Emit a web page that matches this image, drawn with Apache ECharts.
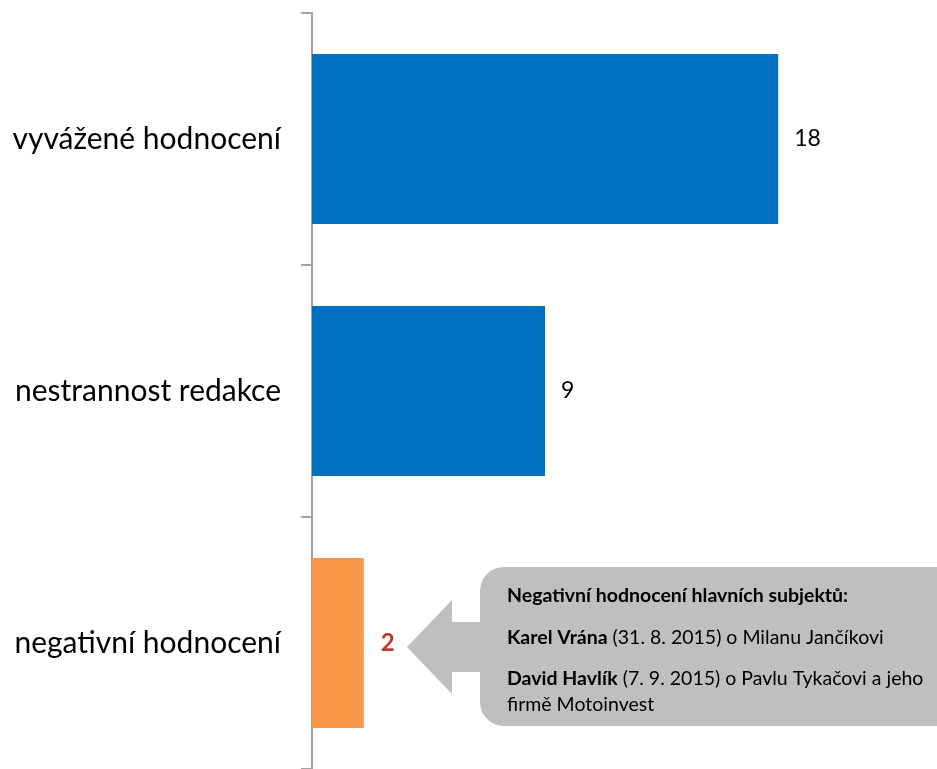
<!DOCTYPE html>
<html>
<head>
<meta charset="utf-8">
<script src="https://cdn.jsdelivr.net/npm/echarts@6/dist/echarts.min.js"></script>
<style>
  html, body { margin: 0; padding: 0; background: #fff; }
  #chart { width: 937px; height: 769px; }
</style>
</head>
<body>
<div id="chart"></div>
<script>
// data
const categories = ['vyvážené hodnocení', 'nestrannost redakce', 'negativní hodnocení']
const values = [18, 9, 2]
const barColors = ['#0070C0', '#0070C0', '#F79646']
const noteTitle = 'Negativní hodnocení hlavních subjektů:'
const noteLines = [
  '{b|Karel Vrána} (31. 8. 2015) o Milanu Jančíkovi',
  '{b|David Havlík} (7. 9. 2015) o Pavlu Tykačovi a jeho',
  'firmě Motoinvest'
]

const FONT = 'Lato'
const NOTE_SIZE = 19.5

const chart = echarts.init(document.getElementById('chart'))

// text lines of the callout
const noteY = [638, 679, 705]
const noteText = noteLines.map((t, i) => ({
  type: 'text',
  style: {
    x: 507,
    y: noteY[i],
    text: t,
    verticalAlign: 'middle',
    font: NOTE_SIZE + 'px ' + FONT,
    fill: '#000',
    rich: { b: { fontWeight: 'bold', fontFamily: FONT, fontSize: NOTE_SIZE } }
  }
}))

const option = {
  animation: false,
  grid: {
    left: 312,
    top: 13,
    width: 518,
    height: 761
  },
  xAxis: {
    type: 'value',
    min: 0,
    max: 20,
    show: false
  },
  yAxis: {
    type: 'category',
    inverse: true,
    data: categories,
    axisLine: { lineStyle: { color: '#A3A3A3', width: 2 } },
    axisTick: { show: true, length: 11, lineStyle: { color: '#A3A3A3', width: 2 } },
    axisLabel: {
      margin: 31,
      color: '#000',
      fontFamily: FONT,
      fontSize: 30
    }
  },
  series: [{
    type: 'bar',
    barWidth: 170,
    data: values.map((v, i) => ({
      value: v,
      itemStyle: { color: barColors[i] },
      label: i === 2
        ? { color: '#C0392B', fontWeight: 'bold', fontSize: 24, distance: 17 }
        : {}
    })),
    label: {
      show: true,
      position: 'right',
      distance: 16,
      color: '#000',
      fontFamily: FONT,
      fontSize: 23
    }
  }],
  graphic: [
    {
      type: 'polygon',
      shape: { points: [[407, 647], [452, 600], [452, 622], [490, 622], [490, 672], [452, 672], [452, 694]] },
      style: { fill: '#BFBFBF' }
    },
    {
      type: 'rect',
      shape: { x: 480, y: 567, width: 480, height: 159, r: 24 },
      style: { fill: '#BFBFBF' }
    },
    {
      type: 'text',
      style: {
        x: 507,
        y: 596,
        text: noteTitle,
        verticalAlign: 'middle',
        font: 'bold ' + NOTE_SIZE + 'px ' + FONT,
        fill: '#000'
      }
    }
  ].concat(noteText)
}

chart.setOption(option)
</script>
</body>
</html>
